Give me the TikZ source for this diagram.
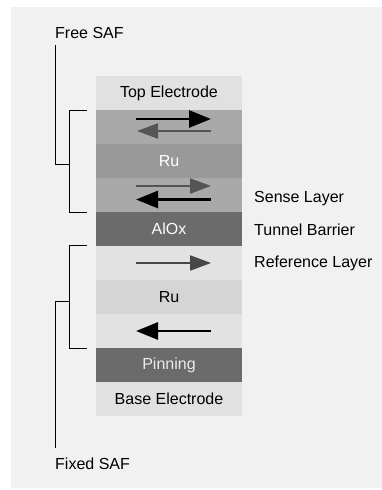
\documentclass[tikz,border=0pt]{standalone}
\usepackage{fontspec}
\setmainfont{Liberation Sans}
\usetikzlibrary{arrows.meta}
\definecolor{bg}{HTML}{F1F1F1}
\definecolor{cTop}{HTML}{E1E1E1}
\definecolor{cMag}{HTML}{A9A9A9}
\definecolor{cRu}{HTML}{999999}
\definecolor{cDark}{HTML}{6B6B6B}
\definecolor{cLight}{HTML}{E2E2E2}
\definecolor{cRuL}{HTML}{D5D5D5}
\definecolor{cGrayArr}{HTML}{555555}
\tikzset{
  layer/.style={minimum width=146pt, minimum height=34pt, inner sep=0pt, outer sep=0pt, anchor=north west, font=\fontsize{16}{18}\selectfont},
  lbl/.style={anchor=west, inner sep=0pt, font=\fontsize{16}{18}\selectfont},
  blackarr/.style={line width=2.8pt, draw=black, -{Triangle[length=22pt,width=17pt]}},
  grayarr/.style={line width=2.2pt, draw=cGrayArr, -{Triangle[length=21pt,width=15pt]}},
  brk/.style={line width=0.9pt, draw=black}
}
\begin{document}
\begin{tikzpicture}[x=1pt,y=-1pt]
\useasboundingbox (0,0) rectangle (382,490);
\fill[white] (0,0) rectangle (382,490);
\fill[bg] (11,7) rectangle (382,488);
% layers
\node[layer, fill=cTop] (top) at (96,76) {Top Electrode};
\node[layer, fill=cMag] (m1) at (96,110) {};
\node[layer, fill=cRu, text=white] (ru1) at (96,144) {Ru};
\node[layer, fill=cMag] (sense) at (96,178) {};
\node[layer, fill=cDark, text=white] (alox) at (96,212) {AlOx};
\node[layer, fill=cLight] (ref) at (96,246) {};
\node[layer, fill=cRuL] (ru2) at (96,280) {Ru};
\node[layer, fill=cLight] (m2) at (96,314) {};
\node[layer, fill=cDark, text=white!92!black] (pin) at (96,348) {Pinning};
\node[layer, fill=cTop] (base) at (96,382) {Base Electrode};
% arrows
\coordinate (a1s) at (136,119); \coordinate (a1e) at (211,119);
\coordinate (a2s) at (211,131); \coordinate (a2e) at (137,131);
\coordinate (a3s) at (136,186); \coordinate (a3e) at (211,186);
\coordinate (a4s) at (211,199.5); \coordinate (a4e) at (136,199.5);
\coordinate (a5s) at (136,263); \coordinate (a5e) at (211,263);
\coordinate (a6s) at (211,331); \coordinate (a6e) at (136,331);
\draw[blackarr] (a1s) -- (a1e);
\draw[grayarr] (a2s) -- (a2e);
\draw[grayarr] (a3s) -- (a3e);
\draw[blackarr] (a4s) -- (a4e);
\draw[grayarr, draw=black!72] (a5s) -- (a5e);
\draw[blackarr] (a6s) -- (a6e);
% side labels
\node[lbl] (lsense) at (254,199) {Sense Layer};
\node[lbl] (ltun) at (254,230) {Tunnel Barrier};
\node[lbl] (lref) at (254,263) {Reference Layer};
\node[lbl, anchor=base west] (free) at (55,38) {Free SAF};
\node[lbl, anchor=base west] (fixed) at (55,469) {Fixed SAF};
% brackets
\coordinate (fTop) at (55,45);
\coordinate (fMid) at (55,164);
\coordinate (fJ) at (69,164);
\draw[brk] (fTop) -- (fMid) -- (fJ);
\draw[brk] (87,110) -- (69,110) -- (69,212) -- (87,212);
\coordinate (xBot) at (55,448);
\coordinate (xMid) at (55,301);
\coordinate (xJ) at (69,301);
\draw[brk] (xBot) -- (xMid) -- (xJ);
\draw[brk] (87,245) -- (69,245) -- (69,348) -- (87,348);
\end{tikzpicture}
\end{document}
